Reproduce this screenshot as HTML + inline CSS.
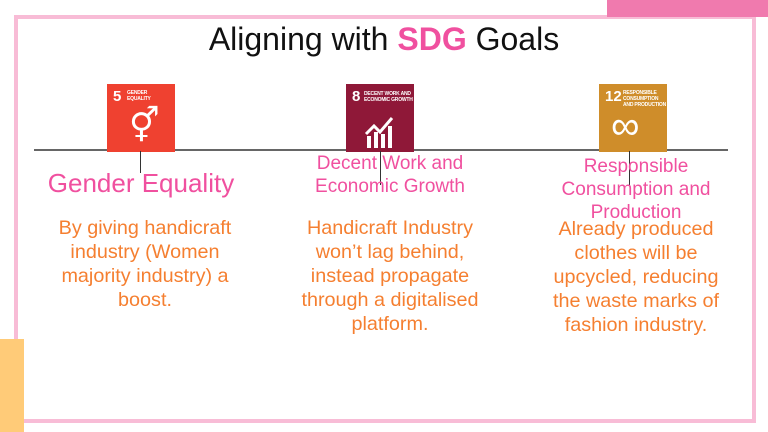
<!DOCTYPE html>
<html><head><meta charset="utf-8"><style>
body{margin:0;width:768px;height:432px;position:relative;background:#fff;font-family:"Liberation Sans",sans-serif;overflow:hidden}
.a{position:absolute}
.ic{position:absolute;width:68px;height:68px;color:#fff}
.t{position:absolute;text-align:center;color:#f0509f;line-height:1.15}
.o{position:absolute;text-align:center;color:#f57f30;font-size:19.8px;line-height:24px}
.sm{position:absolute;font-size:5px;font-weight:bold;line-height:6px;letter-spacing:-0.2px}
.num{position:absolute;font-size:15px;font-weight:bold;left:6px;top:4px}
</style></head><body>
<div class="a" style="left:14px;top:15px;width:734px;height:400px;border:4px solid #f8bcd6"></div>
<div class="a" style="left:607px;top:0;width:161px;height:17px;background:#f07aae"></div>
<div class="a" style="left:0;top:339px;width:24px;height:93px;background:#ffcb78"></div>
<div class="a" style="left:0;width:768px;top:21px;text-align:center;font-size:32px;color:#111">Aligning with <b style="color:#f0509f">SDG</b> Goals</div>
<div class="a" style="left:34px;top:149px;width:694px;height:2px;background:#666"></div>
<div class="ic" style="left:107px;top:84px;background:#ef4130"><span class="num">5</span><span class="sm" style="left:20px;top:6px">GENDER<br>EQUALITY</span><span class="a" style="left:22px;top:22px;font-size:34px">⚥</span></div>
<div class="ic" style="left:346px;top:84px;background:#8f1838"><span class="num">8</span><span class="sm" style="left:18px;top:7px">DECENT WORK AND<br>ECONOMIC GROWTH</span>
<svg class="a" style="left:18px;top:30px" width="32" height="34"><polyline points="2,20 10,12 16,18 28,4" stroke="#fff" stroke-width="3" fill="none"/><rect x="3" y="22" width="4" height="12" fill="#fff"/><rect x="10" y="18" width="4" height="16" fill="#fff"/><rect x="17" y="20" width="4" height="14" fill="#fff"/><rect x="24" y="12" width="4" height="22" fill="#fff"/></svg></div>
<div class="ic" style="left:599px;top:84px;background:#cf8d2a"><span class="num">12</span><span class="sm" style="left:24px;top:6px">RESPONSIBLE<br>CONSUMPTION<br>AND PRODUCTION</span><span class="a" style="left:12px;top:20px;font-size:40px">∞</span></div>
<div class="a" style="left:140px;top:151px;width:1px;height:22px;background:#333"></div>
<div class="a" style="left:380px;top:151px;width:1px;height:34px;background:#333"></div>
<div class="a" style="left:629px;top:151px;width:1px;height:34px;background:#333"></div>
<div class="t" style="left:20px;width:242px;top:169px;font-size:26px">Gender Equality</div>
<div class="t" style="left:270px;width:240px;top:152px;font-size:19px;line-height:23px">Decent Work and<br>Economic Growth</div>
<div class="t" style="left:526px;width:220px;top:155px;font-size:19px;line-height:23px">Responsible<br>Consumption and<br>Production</div>
<div class="o" style="left:35px;width:220px;top:216px">By giving handicraft<br>industry (Women<br>majority industry) a<br>boost.</div>
<div class="o" style="left:275px;width:230px;top:216px">Handicraft Industry<br>won’t lag behind,<br>instead propagate<br>through a digitalised<br>platform.</div>
<div class="o" style="left:526px;width:220px;top:217px">Already produced<br>clothes will be<br>upcycled, reducing<br>the waste marks of<br>fashion industry.</div>
</body></html>
